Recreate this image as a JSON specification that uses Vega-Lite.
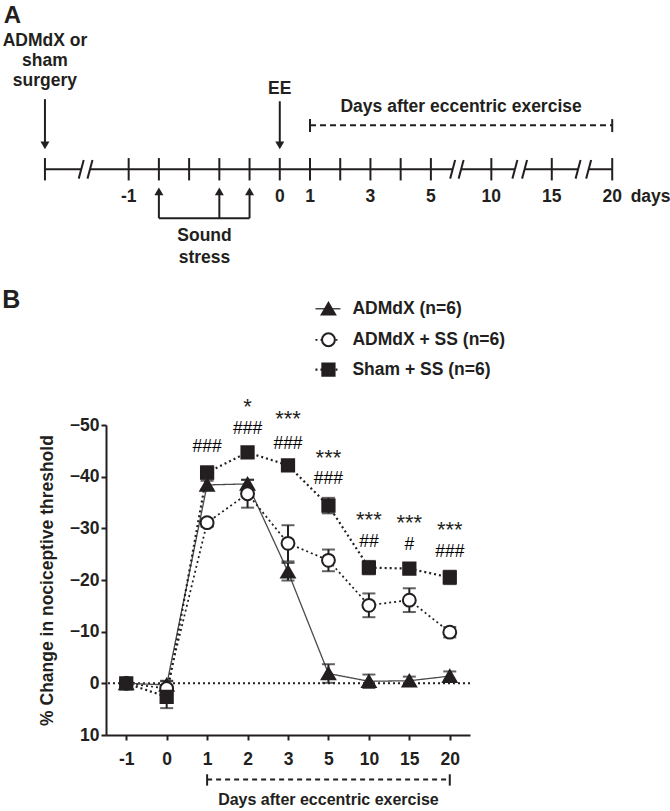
{
  "$schema": "https://vega.github.io/schema/vega-lite/v6.json",
  "background": "white",
  "padding": {"left": 2, "top": 0, "right": 0, "bottom": 0},
  "bounds": "flush",
  "spacing": 156,
  "config": {
    "view": {"stroke": null},
    "font": "Liberation Sans",
    "text": {"font": "Liberation Sans", "color": "#231f20"},
    "axis": {
      "grid": false,
      "labelFont": "Liberation Sans", "labelFontWeight": "bold", "labelFontSize": 17.5, "labelColor": "#231f20",
      "titleFont": "Liberation Sans", "titleFontWeight": "bold", "titleFontSize": 17.5, "titleColor": "#231f20",
      "domainColor": "#231f20", "domainWidth": 2, "tickColor": "#231f20", "tickWidth": 2
    }
  },
  "vconcat": [
    {
      "width": 544,
      "height": 269,
      "layer": [
        {
          "data": {"values": [{"from": -7.77, "to": -6.57}, {"from": -6.28, "to": 5.72}, {"from": 6.0, "to": 7.78}, {"from": 8.1, "to": 9.87}, {"from": 10.22, "to": 11}]},
          "mark": {"type": "rule", "strokeWidth": 2, "color": "#231f20"},
          "encoding": {
            "x": {"field": "from", "type": "quantitative", "scale": {"domain": [-5.75, 12.25], "nice": false, "zero": false}, "axis": null},
            "x2": {"field": "to"},
            "y": {"datum": 0, "type": "quantitative", "scale": {"domain": [-3.3, 5.6], "nice": false, "zero": false}, "axis": null}
          }
        },
        {
          "data": {"values": [{"at": -7.77}, {"at": -5}, {"at": -4}, {"at": -3}, {"at": -2}, {"at": -1}, {"at": 0}, {"at": 1}, {"at": 2}, {"at": 3}, {"at": 4}, {"at": 5}, {"at": 7}, {"at": 9}, {"at": 11}]},
          "mark": {"type": "rule", "strokeWidth": 2, "color": "#231f20"},
          "encoding": {
            "x": {"field": "at", "type": "quantitative"},
            "y": {"datum": -0.37, "type": "quantitative"},
            "y2": {"datum": 0.37}
          }
        },
        {
          "data": {"values": [{"at": -6.57}, {"at": -6.28}, {"at": 5.72}, {"at": 6.0}, {"at": 7.78}, {"at": 8.1}, {"at": 9.87}, {"at": 10.22}]},
          "mark": {"type": "rule", "strokeWidth": 2, "color": "#231f20", "xOffset": -2.5, "x2Offset": 2.5},
          "encoding": {
            "x": {"field": "at", "type": "quantitative"},
            "x2": {"field": "at"},
            "y": {"datum": -0.31, "type": "quantitative"},
            "y2": {"datum": 0.31}
          }
        },
        {
          "data": {"values": [{"at": -5, "label": "-1"}, {"at": 0, "label": "0"}, {"at": 1, "label": "1"}, {"at": 3, "label": "3"}, {"at": 5, "label": "5"}, {"at": 7, "label": "10"}, {"at": 9, "label": "15"}, {"at": 11, "label": "20"}, {"at": 12.27, "label": "days"}]},
          "mark": {"type": "text", "fontSize": 17.5, "fontWeight": "bold", "baseline": "alphabetic", "align": "center"},
          "encoding": {
            "x": {"field": "at", "type": "quantitative"},
            "y": {"datum": -1.08, "type": "quantitative"},
            "text": {"field": "label"}
          }
        },
        {
          "data": {"values": [{"at": -7.77, "top": 2.32}, {"at": 0, "top": 2.25}]},
          "mark": {"type": "rule", "strokeWidth": 2, "color": "#231f20"},
          "encoding": {
            "x": {"field": "at", "type": "quantitative"},
            "y": {"field": "top", "type": "quantitative"},
            "y2": {"datum": 0.9}
          }
        },
        {
          "data": {"values": [{"at": -7.77}, {"at": 0}]},
          "mark": {"type": "point", "shape": "triangle-down", "filled": true, "size": 81, "color": "#231f20", "opacity": 1},
          "encoding": {
            "x": {"field": "at", "type": "quantitative"},
            "y": {"datum": 0.79, "type": "quantitative"}
          }
        },
        {
          "data": {"values": [{"at": -4}, {"at": -2}, {"at": -1}]},
          "mark": {"type": "rule", "strokeWidth": 2, "color": "#231f20"},
          "encoding": {
            "x": {"field": "at", "type": "quantitative"},
            "y": {"datum": -0.85, "type": "quantitative"},
            "y2": {"datum": -1.62}
          }
        },
        {
          "data": {"values": [{"at": -4}, {"at": -2}, {"at": -1}]},
          "mark": {"type": "point", "shape": "triangle-up", "filled": true, "size": 81, "color": "#231f20", "opacity": 1},
          "encoding": {
            "x": {"field": "at", "type": "quantitative"},
            "y": {"datum": -0.73, "type": "quantitative"}
          }
        },
        {
          "data": {"values": [{}]},
          "mark": {"type": "rule", "strokeWidth": 2, "color": "#231f20"},
          "encoding": {
            "x": {"datum": -4, "type": "quantitative"},
            "x2": {"datum": -1},
            "y": {"datum": -1.62, "type": "quantitative"}
          }
        },
        {
          "data": {"values": [{}]},
          "mark": {"type": "rule", "strokeWidth": 2, "color": "#231f20", "strokeDash": [6, 4]},
          "encoding": {
            "x": {"datum": 1, "type": "quantitative"},
            "x2": {"datum": 11},
            "y": {"datum": 1.46, "type": "quantitative"}
          }
        },
        {
          "data": {"values": [{"at": 1}, {"at": 11}]},
          "mark": {"type": "rule", "strokeWidth": 2, "color": "#231f20"},
          "encoding": {
            "x": {"field": "at", "type": "quantitative"},
            "y": {"datum": 1.23, "type": "quantitative"},
            "y2": {"datum": 1.66}
          }
        },
        {
          "data": {"values": [{}]},
          "mark": {"type": "text", "text": "Days after eccentric exercise", "fontSize": 17.5, "fontWeight": "bold", "baseline": "alphabetic", "align": "center"},
          "encoding": {
            "x": {"datum": 6.0, "type": "quantitative"},
            "y": {"datum": 1.89, "type": "quantitative"}
          }
        },
        {
          "data": {"values": [{}]},
          "mark": {"type": "text", "text": "EE", "fontSize": 17.5, "fontWeight": "bold", "baseline": "alphabetic", "align": "center"},
          "encoding": {
            "x": {"datum": 0, "type": "quantitative"},
            "y": {"datum": 2.48, "type": "quantitative"}
          }
        },
        {
          "data": {"values": [{}]},
          "mark": {"type": "text", "text": ["ADMdX or", "sham", "surgery"], "lineHeight": 20, "fontSize": 17.5, "fontWeight": "bold", "baseline": "alphabetic", "align": "center"},
          "encoding": {
            "x": {"datum": -7.77, "type": "quantitative"},
            "y": {"datum": 4.07, "type": "quantitative"}
          }
        },
        {
          "data": {"values": [{}]},
          "mark": {"type": "text", "text": ["Sound", "stress"], "lineHeight": 22, "fontSize": 17.5, "fontWeight": "bold", "baseline": "alphabetic", "align": "center"},
          "encoding": {
            "x": {"datum": -2.49, "type": "quantitative"},
            "y": {"datum": -2.38, "type": "quantitative"}
          }
        },
        {
          "data": {"values": [{}]},
          "mark": {"type": "text", "text": "A", "fontSize": 24, "fontWeight": "bold", "baseline": "alphabetic", "align": "left"},
          "encoding": {
            "x": {"datum": -9.13, "type": "quantitative"},
            "y": {"datum": 4.85, "type": "quantitative"}
          }
        }
      ]
    },
    {
      "width": 364,
      "height": 310,
      "data": {"values": [
        {"group": "ADMdX (n=6)", "day": -1, "mean": 0, "sem": 0.6},
        {"group": "ADMdX (n=6)", "day": 0, "mean": 0.3, "sem": 0.8},
        {"group": "ADMdX (n=6)", "day": 1, "mean": -38.4, "sem": 0.8},
        {"group": "ADMdX (n=6)", "day": 2, "mean": -38.6, "sem": 0.8},
        {"group": "ADMdX (n=6)", "day": 3, "mean": -21.6, "sem": 1.7},
        {"group": "ADMdX (n=6)", "day": 5, "mean": -1.9, "sem": 1.8},
        {"group": "ADMdX (n=6)", "day": 10, "mean": -0.4, "sem": 1.3},
        {"group": "ADMdX (n=6)", "day": 15, "mean": -0.5, "sem": 0.8},
        {"group": "ADMdX (n=6)", "day": 20, "mean": -1.4, "sem": 0.9},
        {"group": "ADMdX + SS (n=6)", "day": -1, "mean": 0, "sem": 0.6},
        {"group": "ADMdX + SS (n=6)", "day": 0, "mean": 1.0, "sem": 1.4},
        {"group": "ADMdX + SS (n=6)", "day": 1, "mean": -31.1, "sem": 0.8},
        {"group": "ADMdX + SS (n=6)", "day": 2, "mean": -36.7, "sem": 2.7},
        {"group": "ADMdX + SS (n=6)", "day": 3, "mean": -27.1, "sem": 3.5},
        {"group": "ADMdX + SS (n=6)", "day": 5, "mean": -23.8, "sem": 2.1},
        {"group": "ADMdX + SS (n=6)", "day": 10, "mean": -15.1, "sem": 2.3},
        {"group": "ADMdX + SS (n=6)", "day": 15, "mean": -16.1, "sem": 2.3},
        {"group": "ADMdX + SS (n=6)", "day": 20, "mean": -9.9, "sem": 1.0},
        {"group": "Sham + SS (n=6)", "day": -1, "mean": 0, "sem": 0.6},
        {"group": "Sham + SS (n=6)", "day": 0, "mean": 2.6, "sem": 2.2},
        {"group": "Sham + SS (n=6)", "day": 1, "mean": -40.8, "sem": 1.2},
        {"group": "Sham + SS (n=6)", "day": 2, "mean": -44.7, "sem": 1.0},
        {"group": "Sham + SS (n=6)", "day": 3, "mean": -42.2, "sem": 0.6},
        {"group": "Sham + SS (n=6)", "day": 5, "mean": -34.4, "sem": 1.5},
        {"group": "Sham + SS (n=6)", "day": 10, "mean": -22.4, "sem": 1.3},
        {"group": "Sham + SS (n=6)", "day": 15, "mean": -22.2, "sem": 1.0},
        {"group": "Sham + SS (n=6)", "day": 20, "mean": -20.5, "sem": 1.3}
      ]},
      "layer": [
        {
          "data": {"values": [{}]},
          "mark": {"type": "rule", "strokeWidth": 2, "strokeDash": [2, 3], "color": "#231f20"},
          "encoding": {
            "y": {"datum": 0, "type": "quantitative", "scale": {"domain": [-50, 10], "reverse": true, "nice": false, "zero": false}}
          }
        },
        {
          "mark": {"type": "line"},
          "encoding": {
            "x": {"field": "day", "type": "ordinal", "scale": {"type": "point", "padding": 0.5},
                  "axis": {"title": null, "labelAngle": 0, "tickSize": 5, "labelPadding": 10}},
            "y": {"field": "mean", "type": "quantitative", "title": "% Change in nociceptive threshold",
                  "scale": {"domain": [-50, 10], "reverse": true, "nice": false, "zero": false},
                  "axis": {"values": [-50, -40, -30, -20, -10, 0, 10], "tickSize": 5, "labelPadding": 2, "titlePadding": 13}},
            "detail": {"field": "group"},
            "color": {"field": "group", "type": "nominal", "scale": {"domain": ["ADMdX (n=6)", "ADMdX + SS (n=6)", "Sham + SS (n=6)"], "range": ["#4a4a4a", "#231f20", "#231f20"]}, "legend": null},
            "strokeDash": {"field": "group", "type": "nominal", "scale": {"domain": ["ADMdX (n=6)", "ADMdX + SS (n=6)", "Sham + SS (n=6)"], "range": [[1, 0], [2, 3], [2, 3]]}, "legend": null},
            "strokeWidth": {"field": "group", "type": "nominal", "scale": {"domain": ["ADMdX (n=6)", "ADMdX + SS (n=6)", "Sham + SS (n=6)"], "range": [1.3, 2.2, 2.2]}, "legend": null}
          }
        },
        {
          "mark": {"type": "errorbar", "ticks": {"size": 13, "thickness": 2, "color": "#231f20"}, "rule": {"strokeWidth": 2, "color": "#231f20"}},
          "encoding": {
            "x": {"field": "day", "type": "ordinal"},
            "y": {"field": "mean", "type": "quantitative", "title": "% Change in nociceptive threshold"},
            "yError": {"field": "sem"},
            "detail": {"field": "group"}
          }
        },
        {
          "mark": {"type": "point", "filled": true, "stroke": "#231f20", "strokeWidth": 2, "opacity": 1},
          "encoding": {
            "x": {"field": "day", "type": "ordinal"},
            "y": {"field": "mean", "type": "quantitative", "title": "% Change in nociceptive threshold"},
            "shape": {"field": "group", "type": "nominal", "scale": {"domain": ["ADMdX (n=6)", "ADMdX + SS (n=6)", "Sham + SS (n=6)"], "range": ["triangle-up", "circle", "square"]}, "legend": null},
            "fill": {"field": "group", "type": "nominal", "scale": {"domain": ["ADMdX (n=6)", "ADMdX + SS (n=6)", "Sham + SS (n=6)"], "range": ["#231f20", "#ffffff", "#231f20"]}, "legend": null},
            "size": {"field": "group", "type": "nominal", "scale": {"domain": ["ADMdX (n=6)", "ADMdX + SS (n=6)", "Sham + SS (n=6)"], "range": [180, 150, 160]}, "legend": null}
          }
        },
        {
          "data": {"values": [
            {"day": 2, "mark": "*", "level": -53.5},
            {"day": 3, "mark": "***", "level": -51.1},
            {"day": 5, "mark": "***", "level": -43.6},
            {"day": 10, "mark": "***", "level": -31.7},
            {"day": 15, "mark": "***", "level": -31.1},
            {"day": 20, "mark": "***", "level": -29.7}
          ]},
          "mark": {"type": "text", "fontSize": 22, "baseline": "middle", "align": "center"},
          "encoding": {
            "x": {"field": "day", "type": "ordinal"},
            "y": {"field": "level", "type": "quantitative", "title": "% Change in nociceptive threshold"},
            "text": {"field": "mark"}
          }
        },
        {
          "data": {"values": [
            {"day": 1, "mark": "###", "level": -45.7},
            {"day": 2, "mark": "###", "level": -49.3},
            {"day": 3, "mark": "###", "level": -46.4},
            {"day": 5, "mark": "###", "level": -39.5},
            {"day": 10, "mark": "##", "level": -27.3},
            {"day": 15, "mark": "#", "level": -26.7},
            {"day": 20, "mark": "###", "level": -25.5}
          ]},
          "mark": {"type": "text", "fontSize": 17.5, "baseline": "middle", "align": "center", "color": "#000000"},
          "encoding": {
            "x": {"field": "day", "type": "ordinal"},
            "y": {"field": "level", "type": "quantitative", "title": "% Change in nociceptive threshold"},
            "text": {"field": "mark"}
          }
        },
        {
          "data": {"values": [{"group": "ADMdX (n=6)"}]},
          "encoding": {"x": {"datum": 5, "type": "ordinal"}, "y": {"datum": -72.5, "type": "quantitative"}},
          "layer": [
            {"mark": {"type": "rule", "xOffset": -13, "x2Offset": 12},
             "encoding": {"x2": {"datum": 5},
               "color": {"field": "group", "type": "nominal", "legend": null},
               "strokeDash": {"field": "group", "type": "nominal", "legend": null},
               "strokeWidth": {"field": "group", "type": "nominal", "legend": null}}},
            {"mark": {"type": "point", "filled": true, "stroke": "#231f20", "strokeWidth": 2, "opacity": 1},
             "encoding": {"shape": {"field": "group", "type": "nominal", "legend": null}, "fill": {"field": "group", "type": "nominal", "legend": null}, "size": {"field": "group", "type": "nominal", "legend": null}}},
            {"mark": {"type": "text", "fontSize": 17.5, "fontWeight": "bold", "align": "left", "baseline": "middle", "dx": 24},
             "encoding": {"text": {"field": "group"}}}
          ]
        },
        {
          "data": {"values": [{"group": "ADMdX + SS (n=6)"}]},
          "encoding": {"x": {"datum": 5, "type": "ordinal"}, "y": {"datum": -66.5, "type": "quantitative"}},
          "layer": [
            {"mark": {"type": "rule", "xOffset": -13, "x2Offset": 12},
             "encoding": {"x2": {"datum": 5},
               "color": {"field": "group", "type": "nominal", "legend": null},
               "strokeDash": {"field": "group", "type": "nominal", "legend": null},
               "strokeWidth": {"field": "group", "type": "nominal", "legend": null}}},
            {"mark": {"type": "point", "filled": true, "stroke": "#231f20", "strokeWidth": 2, "opacity": 1},
             "encoding": {"shape": {"field": "group", "type": "nominal", "legend": null}, "fill": {"field": "group", "type": "nominal", "legend": null}, "size": {"field": "group", "type": "nominal", "legend": null}}},
            {"mark": {"type": "text", "fontSize": 17.5, "fontWeight": "bold", "align": "left", "baseline": "middle", "dx": 24},
             "encoding": {"text": {"field": "group"}}}
          ]
        },
        {
          "data": {"values": [{"group": "Sham + SS (n=6)"}]},
          "encoding": {"x": {"datum": 5, "type": "ordinal"}, "y": {"datum": -60.7, "type": "quantitative"}},
          "layer": [
            {"mark": {"type": "rule", "xOffset": -13, "x2Offset": 12},
             "encoding": {"x2": {"datum": 5},
               "color": {"field": "group", "type": "nominal", "legend": null},
               "strokeDash": {"field": "group", "type": "nominal", "legend": null},
               "strokeWidth": {"field": "group", "type": "nominal", "legend": null}}},
            {"mark": {"type": "point", "filled": true, "stroke": "#231f20", "strokeWidth": 2, "opacity": 1},
             "encoding": {"shape": {"field": "group", "type": "nominal", "legend": null}, "fill": {"field": "group", "type": "nominal", "legend": null}, "size": {"field": "group", "type": "nominal", "legend": null}}},
            {"mark": {"type": "text", "fontSize": 17.5, "fontWeight": "bold", "align": "left", "baseline": "middle", "dx": 24},
             "encoding": {"text": {"field": "group"}}}
          ]
        },
        {
          "data": {"values": [{}]},
          "mark": {"type": "rule", "strokeWidth": 2, "strokeDash": [5, 4], "color": "#231f20"},
          "encoding": {
            "x": {"datum": 1, "type": "ordinal"},
            "x2": {"datum": 20},
            "y": {"datum": 18.6, "type": "quantitative"}
          }
        },
        {
          "data": {"values": [{"at": 1}, {"at": 20}]},
          "mark": {"type": "rule", "strokeWidth": 2, "color": "#231f20"},
          "encoding": {
            "x": {"field": "at", "type": "ordinal"},
            "y": {"datum": 17.6, "type": "quantitative"},
            "y2": {"datum": 19.8}
          }
        },
        {
          "data": {"values": [{}]},
          "mark": {"type": "text", "text": "Days after eccentric exercise", "fontSize": 16, "fontWeight": "bold", "baseline": "alphabetic", "align": "center"},
          "encoding": {
            "x": {"datum": 5, "type": "ordinal"},
            "y": {"datum": 23.6, "type": "quantitative"}
          }
        },
        {
          "data": {"values": [{}]},
          "mark": {"type": "text", "text": "B", "fontSize": 25, "fontWeight": "bold", "baseline": "alphabetic", "align": "left", "dx": -124},
          "encoding": {
            "x": {"datum": -1, "type": "ordinal"},
            "y": {"datum": -72.7, "type": "quantitative"}
          }
        }
      ]
    }
  ]
}
